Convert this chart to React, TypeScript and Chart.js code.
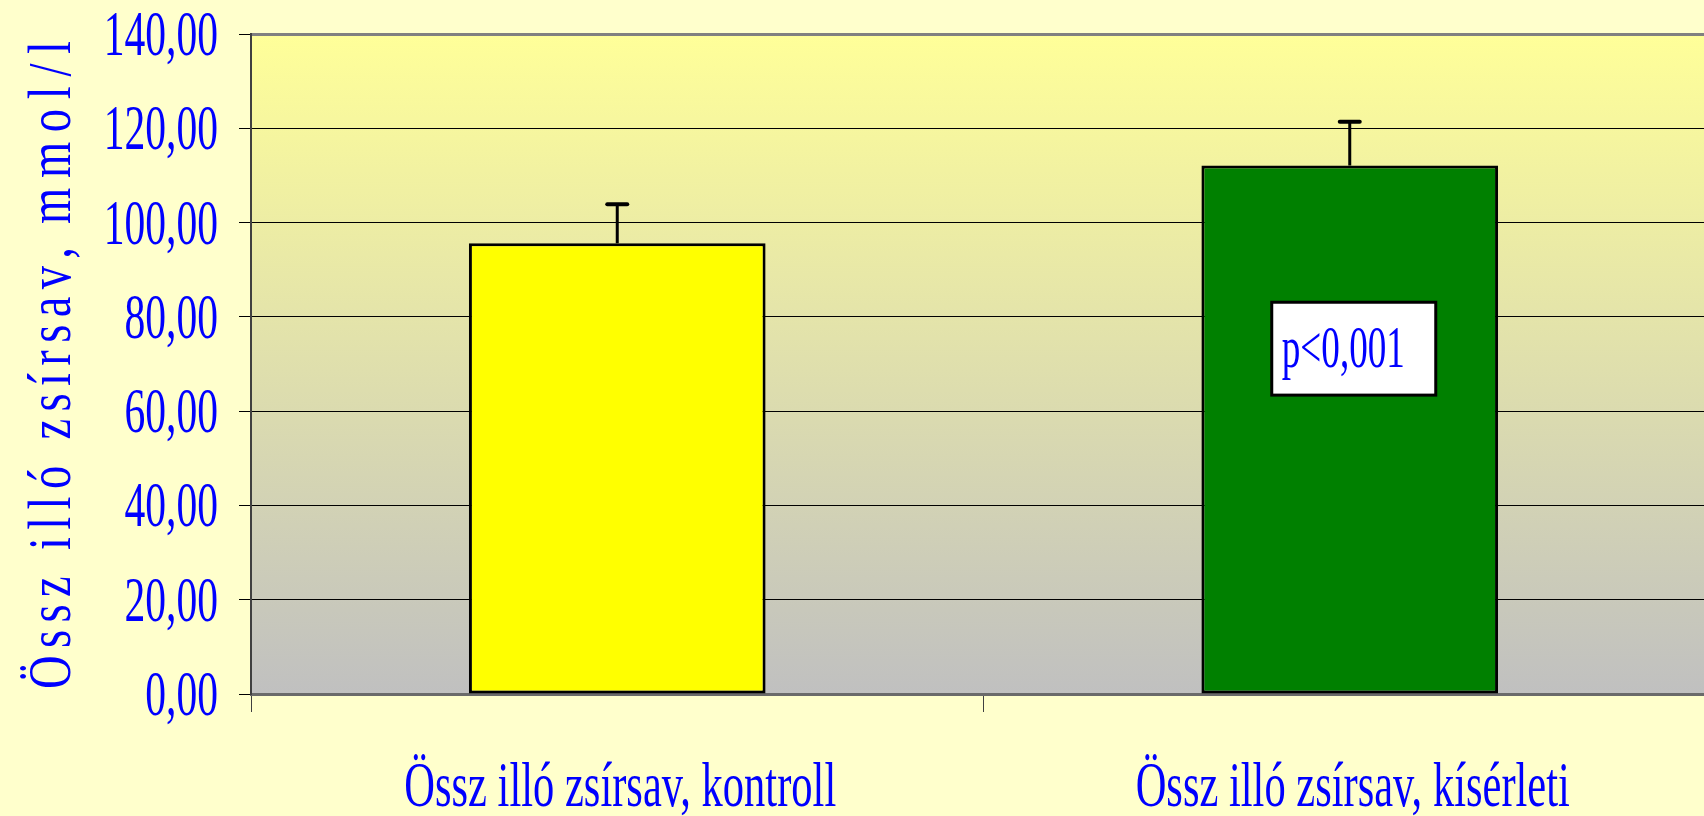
import React, { useEffect, useRef } from 'react';
import { Chart, registerables } from 'chart.js';

Chart.register(...registerables);

// ---- data ----
const categories = ['Össz illó zsírsav, kontroll', 'Össz illó zsírsav, kísérleti'];
const means = [95.6, 112.1];
const errors = [8.3, 9.3];
const barColors = ['#FFFF00', '#008000'];
const yTicks = [0, 20, 40, 60, 80, 100, 120, 140];
const yTitleParts = ['Össz illó zsírsav,', 'mmol/l'];
const pLabel = 'p<0,001';

const formatTick = (v: number) => v.toFixed(2).replace('.', ',');

// ---- style ----
const CANVAS_W = 1740;
const CANVAS_H = 816;
const FONT = '"Liberation Serif", "Times New Roman", serif';
const BLUE = '#0000FF';
// [start, end] pixel span (bottom -> top) of each title segment
const TITLE_SPANS: [number, number][] = [
  [689, 247],
  [224, 41],
];

function drawScaledText(
  ctx: CanvasRenderingContext2D,
  text: string,
  x: number,
  y: number,
  sx: number,
  font: string,
  align: 'left' | 'center' | 'right'
) {
  ctx.save();
  ctx.font = font;
  ctx.fillStyle = BLUE;
  ctx.textBaseline = 'alphabetic';
  ctx.textAlign = 'left';
  const w = ctx.measureText(text).width * sx;
  let x0 = x;
  if (align === 'center') x0 = x - w / 2;
  else if (align === 'right') x0 = x - w;
  ctx.translate(x0, y);
  ctx.scale(sx, 1);
  ctx.fillText(text, 0, 0);
  ctx.restore();
}

const bgPlugin = {
  id: 'bgPlugin',
  beforeDraw(chart: any) {
    const { ctx, chartArea } = chart;
    ctx.save();
    ctx.fillStyle = '#FFFFCC';
    ctx.fillRect(0, 0, chart.width, chart.height);
    const g = ctx.createLinearGradient(0, chartArea.top, 0, chartArea.bottom);
    g.addColorStop(0, '#FFFF99');
    g.addColorStop(1, '#C0C0C0');
    ctx.fillStyle = g;
    ctx.fillRect(chartArea.left, chartArea.top, chartArea.right - chartArea.left, chartArea.bottom - chartArea.top);
    ctx.restore();
  },
};

const overlayPlugin = {
  id: 'overlayPlugin',
  afterDatasetsDraw(chart: any) {
    const { ctx } = chart;
    const yScale = chart.scales.y;
    const meta = chart.getDatasetMeta(0);
    ctx.save();
    ctx.strokeStyle = '#000';
    meta.data.forEach((bar: any, i: number) => {
      const top = yScale.getPixelForValue(means[i]);
      const capY = yScale.getPixelForValue(means[i] + errors[i]);
      ctx.lineWidth = 3;
      ctx.lineCap = 'butt';
      ctx.beginPath();
      ctx.moveTo(bar.x, top);
      ctx.lineTo(bar.x, capY);
      ctx.stroke();
      ctx.lineWidth = 4;
      ctx.lineCap = 'round';
      ctx.beginPath();
      ctx.moveTo(bar.x - 10, capY);
      ctx.lineTo(bar.x + 10, capY);
      ctx.stroke();
    });
    // p-value annotation box on the second bar
    const b = meta.data[1];
    const boxLeft = b.x - 78;
    const boxW = 164;
    const boxTop = yScale.getPixelForValue(83.1);
    const boxBottom = yScale.getPixelForValue(63.4);
    ctx.fillStyle = '#FFFFFF';
    ctx.fillRect(boxLeft, boxTop, boxW, boxBottom - boxTop);
    ctx.lineWidth = 3;
    ctx.lineCap = 'butt';
    ctx.strokeStyle = '#000';
    ctx.strokeRect(boxLeft, boxTop, boxW, boxBottom - boxTop);
    ctx.restore();
    drawScaledText(ctx, pLabel, boxLeft + 10, boxTop + 65, 0.63, `59px ${FONT}`, 'left');
  },
  afterDraw(chart: any) {
    const { ctx, chartArea } = chart;
    const yScale = chart.scales.y;
    const xScale = chart.scales.x;
    // y tick labels
    yTicks.forEach((v) => {
      const py = yScale.getPixelForValue(v);
      drawScaledText(ctx, formatTick(v), chartArea.left - 33, py + 21, 0.66, `63px ${FONT}`, 'right');
    });
    // x category labels
    categories.forEach((c, i) => {
      const px = xScale.getPixelForValue(i);
      drawScaledText(ctx, c, px + 3, 806, 0.675, `63px ${FONT}`, 'center');
    });
    // y title (rotated, condensed, letter spaced)
    ctx.save();
    ctx.font = `62px ${FONT}`;
    ctx.fillStyle = BLUE;
    ctx.textBaseline = 'alphabetic';
    ctx.textAlign = 'left';
    const sx = 0.75;
    yTitleParts.forEach((part, pi) => {
      const [start, end] = TITLE_SPANS[pi];
      const chars = Array.from(part);
      const natural = chars.reduce((s, ch) => s + ctx.measureText(ch).width * sx, 0);
      const ls = (start - end - natural) / (chars.length - 1);
      ctx.save();
      ctx.translate(70, start);
      ctx.rotate(-Math.PI / 2);
      let pos = 0;
      chars.forEach((ch) => {
        ctx.save();
        ctx.translate(pos, 0);
        ctx.scale(sx, 1);
        ctx.fillText(ch, 0, 0);
        ctx.restore();
        pos += ctx.measureText(ch).width * sx + ls;
      });
      ctx.restore();
    });
    ctx.restore();
  },
};

export default function App() {
  const ref = useRef<HTMLCanvasElement | null>(null);

  useEffect(() => {
    if (!ref.current) return;
    const chart = new Chart(ref.current, {
      type: 'bar',
      data: {
        labels: categories,
        datasets: [
          {
            data: means,
            backgroundColor: barColors,
            borderColor: '#000000',
            borderWidth: 3,
            borderSkipped: false,
            barPercentage: 0.405,
            categoryPercentage: 1,
          },
        ],
      },
      options: {
        responsive: false,
        devicePixelRatio: 1,
        animation: false,
        layout: { padding: { left: 0, top: 34, right: 24, bottom: 0 } },
        plugins: {
          legend: { display: false },
          tooltip: { enabled: false },
        },
        scales: {
          x: {
            offset: true,
            grid: {
              display: true,
              offset: true,
              drawOnChartArea: false,
              drawTicks: true,
              tickLength: 18,
              color: '#404040',
              lineWidth: 1,
            },
            border: { display: true, color: '#6A6A6A', width: 3 },
            ticks: { display: false },
            afterFit: (s: any) => {
              s.height = 122;
            },
          },
          y: {
            min: 0,
            max: 140,
            afterBuildTicks: (s: any) => {
              s.ticks = yTicks.map((v) => ({ value: v }));
            },
            grid: {
              color: (c: any) => (c.tick && c.tick.value === 140 ? '#808080' : '#000000'),
              lineWidth: (c: any) => (c.tick && c.tick.value === 140 ? 3 : 1),
              drawTicks: true,
              tickLength: 12,
              tickColor: '#000000',
              tickWidth: 1,
            },
            border: { display: true, color: '#404040', width: 2 },
            ticks: { display: false },
            afterFit: (s: any) => {
              s.width = 251;
            },
          },
        },
      },
      plugins: [bgPlugin, overlayPlugin],
    } as any);
    return () => chart.destroy();
  }, []);

  return (
    <div
      style={{
        position: 'fixed',
        left: 0,
        top: 0,
        width: 1704,
        height: 816,
        overflow: 'hidden',
        background: '#FFFFCC',
      }}
    >
      <canvas ref={ref} width={CANVAS_W} height={CANVAS_H} style={{ display: 'block', width: CANVAS_W, height: CANVAS_H }} />
    </div>
  );
}
